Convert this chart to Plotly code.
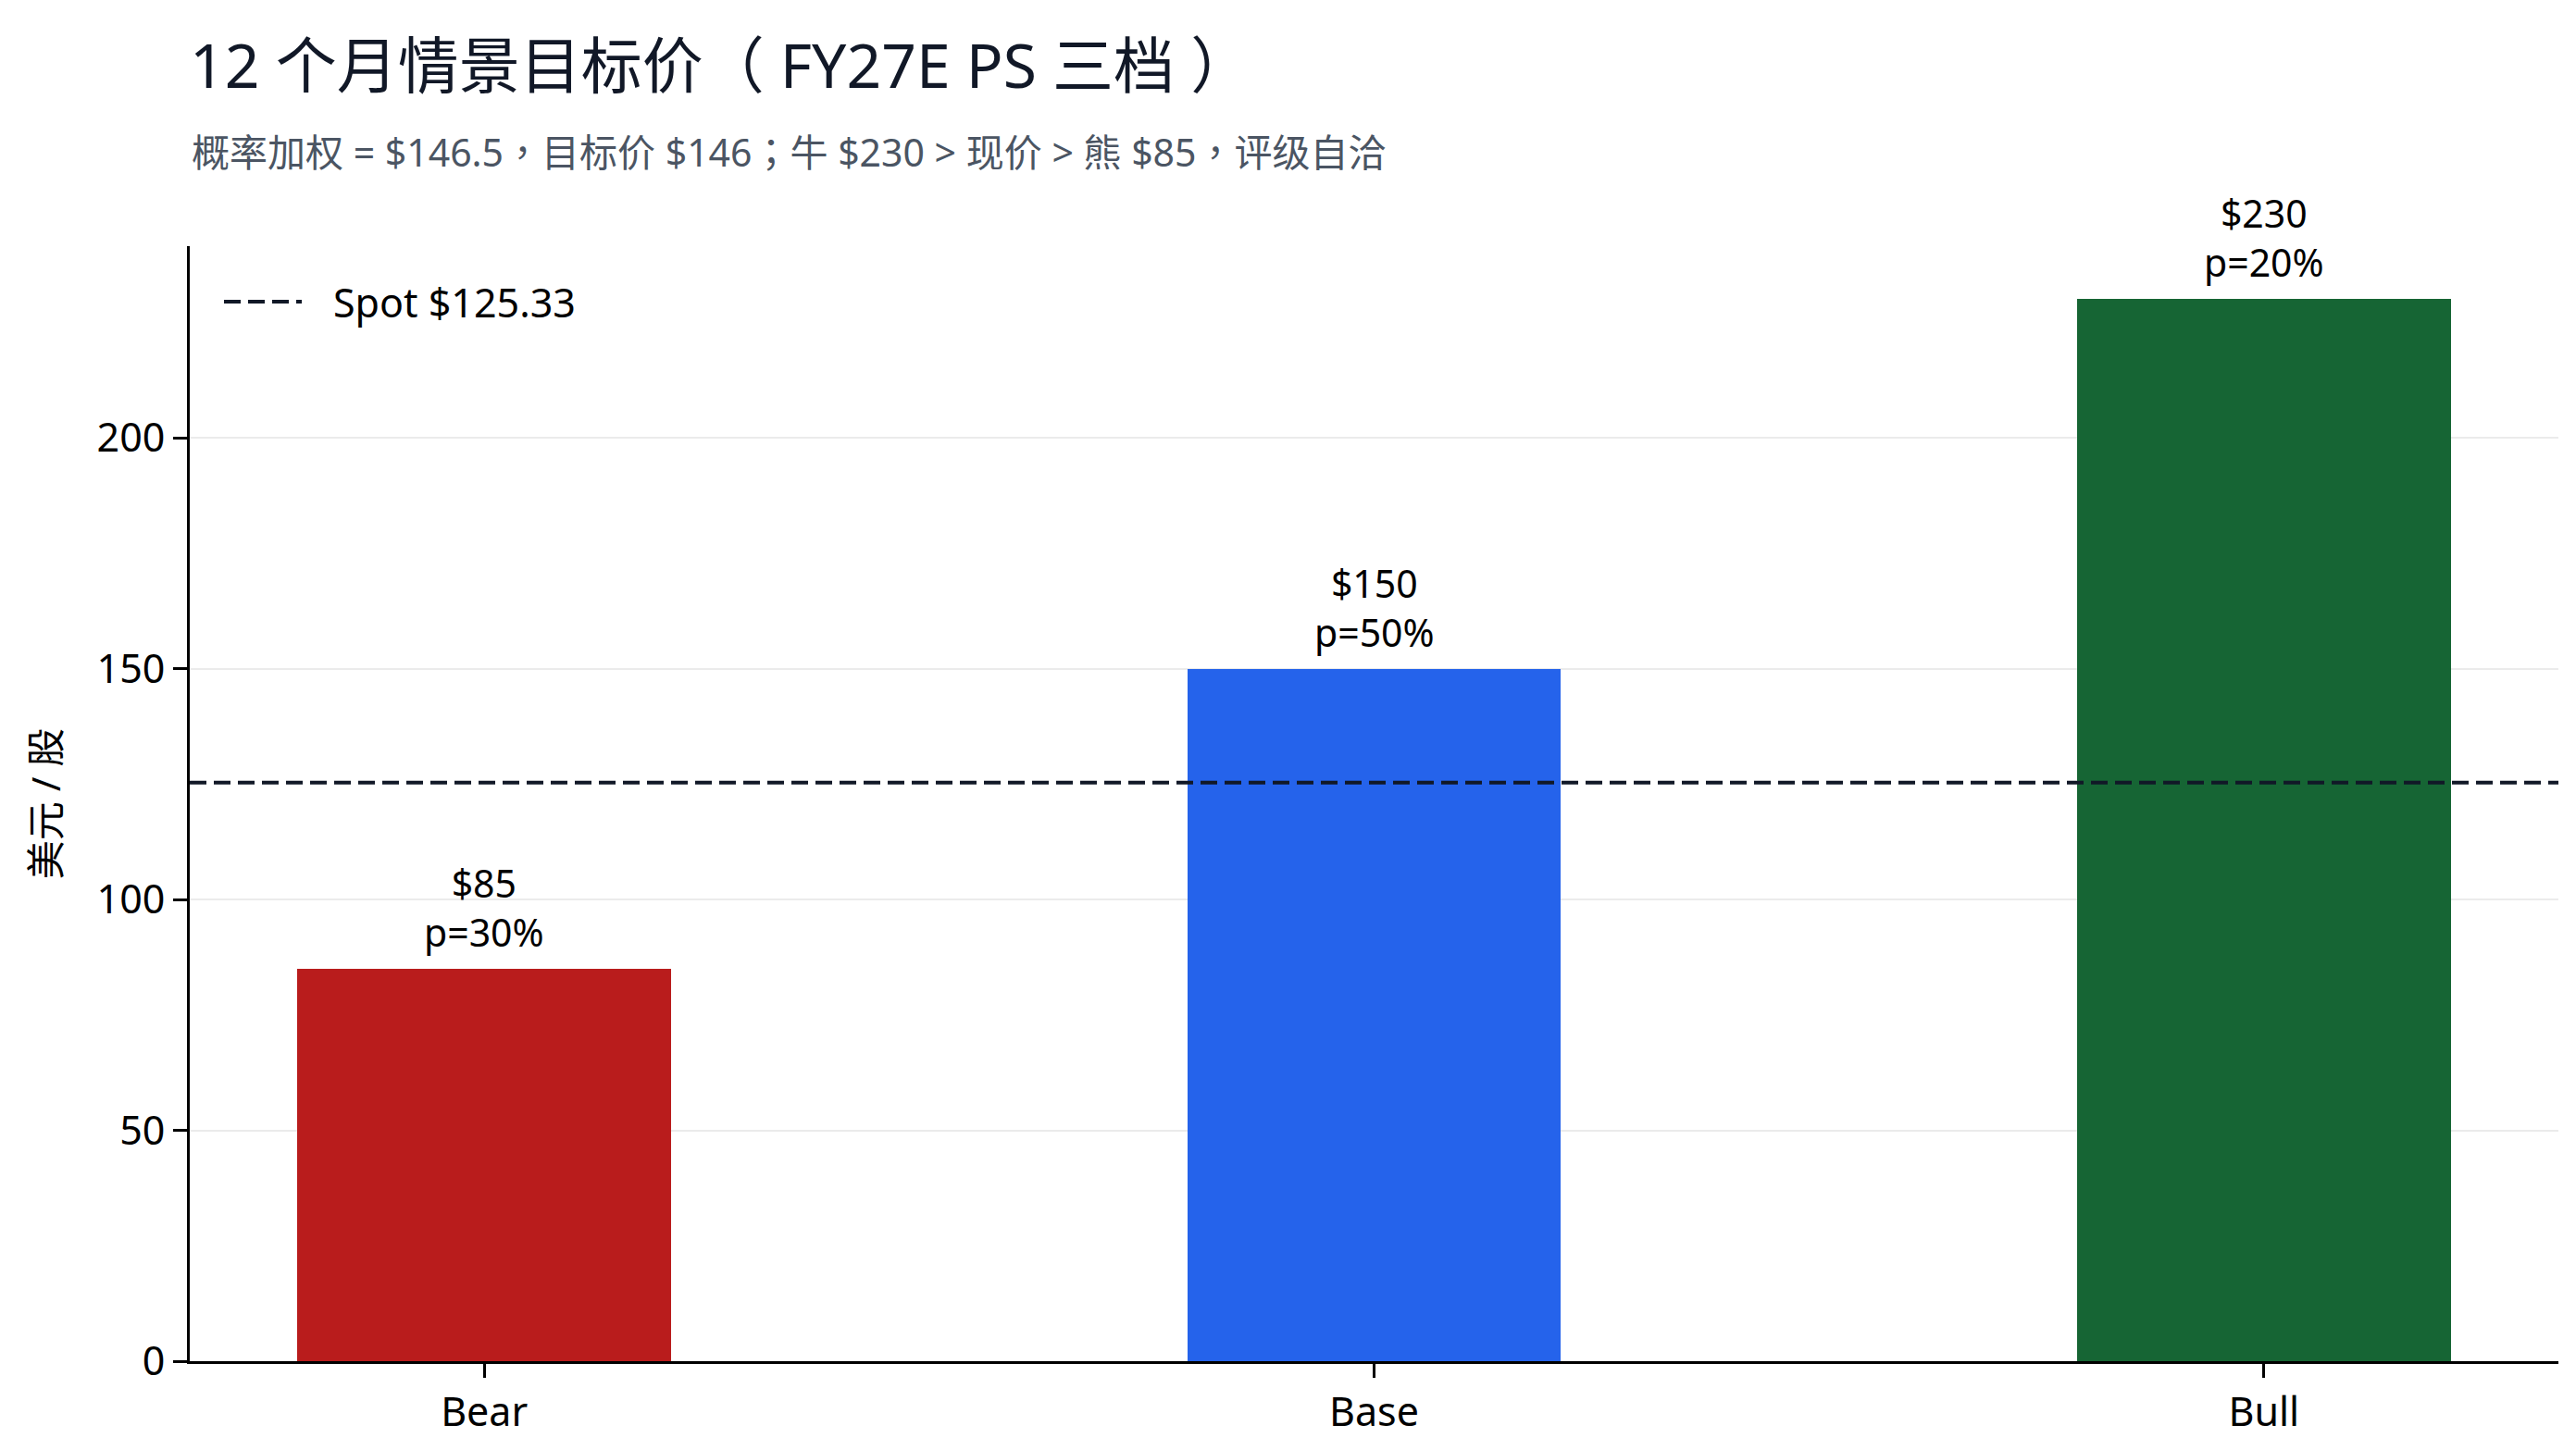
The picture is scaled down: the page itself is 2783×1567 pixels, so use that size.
import plotly.graph_objects as go

# scenario data
scenarios = ["Bear", "Base", "Bull"]
targets = [85, 150, 230]
probs = [30, 50, 20]
bar_colors = ["#b91c1c", "#2563eb", "#166534"]
spot = 125.33
y_ticks = [0, 50, 100, 150, 200]

FONT = "Noto Sans, Noto Sans CJK TC, sans-serif"
INK = "#111827"

# plot box in page pixels
L, R, T, B = 197, 2756, 258, 1463
W, H = 2783, 1567

fig = go.Figure()

fig.add_trace(
    go.Bar(
        x=scenarios,
        y=targets,
        width=0.42,
        marker=dict(color=bar_colors, line=dict(width=0)),
        showlegend=False,
        hoverinfo="skip",
    )
)

# spot price line
dash = dict(color=INK, width=4, dash="18px,8px")
fig.add_hline(y=spot, line=dash, layer="above")

# hand-made legend entry (longer handle than plotly's own)
leg_y = (B - 318) / (B - T)
fig.add_shape(type="line", xref="paper", yref="paper",
              x0=(234 - L) / (R - L), x1=(318 - L) / (R - L),
              y0=leg_y, y1=leg_y, line=dash)
fig.add_annotation(
    text=f"Spot ${spot:.2f}", xref="paper", yref="paper",
    x=(350 - L) / (R - L), y=leg_y, xanchor="left", yanchor="middle",
    showarrow=False, font=dict(family=FONT, size=43, color="#000000"),
)

# value / probability labels above bars
for s, v, p in zip(scenarios, targets, probs):
    fig.add_annotation(x=s, y=v, text=f"${v}<br>p={p}%", showarrow=False,
                       yanchor="bottom", yshift=10,
                       font=dict(family=FONT, size=41, color="#000000"))

fig.add_annotation(
    text="概率加权 = $146.5，目标价 $146；牛 $230 > 现价 > 熊 $85，评级自洽",
    xref="paper", yref="paper", x=0, y=(B - 156) / (B - T),
    xanchor="left", yanchor="middle", showarrow=False,
    font=dict(family=FONT, size=41, color="#4b5563"),
)

fig.update_layout(
    width=W,
    height=H,
    paper_bgcolor="white",
    plot_bgcolor="white",
    margin=dict(l=L, r=W - R, t=T, b=H - B),
    font=dict(family=FONT, size=43, color="#000000"),
    title=dict(
        text="12 个月情景目标价（ FY27E PS 三档 ）",
        x=L / W, xanchor="left", xref="container",
        y=1 - 64 / H, yanchor="middle", yref="container",
        font=dict(family=FONT, size=66, color=INK),
    ),
    showlegend=False,
    bargap=0,
)

fig.update_xaxes(
    range=[-0.331, 2.331],
    showline=True, linecolor="#000000", linewidth=3,
    ticks="outside", ticklen=15, tickwidth=3, tickcolor="#000000",
    showgrid=False, zeroline=False,
    tickfont=dict(family=FONT, size=43, color="#000000"),
)
fig.update_yaxes(
    range=[0, 241.5],
    tickvals=y_ticks,
    showline=True, linecolor="#000000", linewidth=3,
    ticks="outside", ticklen=15, tickwidth=3, tickcolor="#000000",
    showgrid=True, gridcolor="rgba(0,0,0,0.08)", gridwidth=2,
    zeroline=False, layer="above traces",
    tickfont=dict(family=FONT, size=43, color="#000000"),
    title=dict(text="美元 / 股", standoff=26,
               font=dict(family=FONT, size=42, color="#000000")),
)

fig.write_html("out.html")
